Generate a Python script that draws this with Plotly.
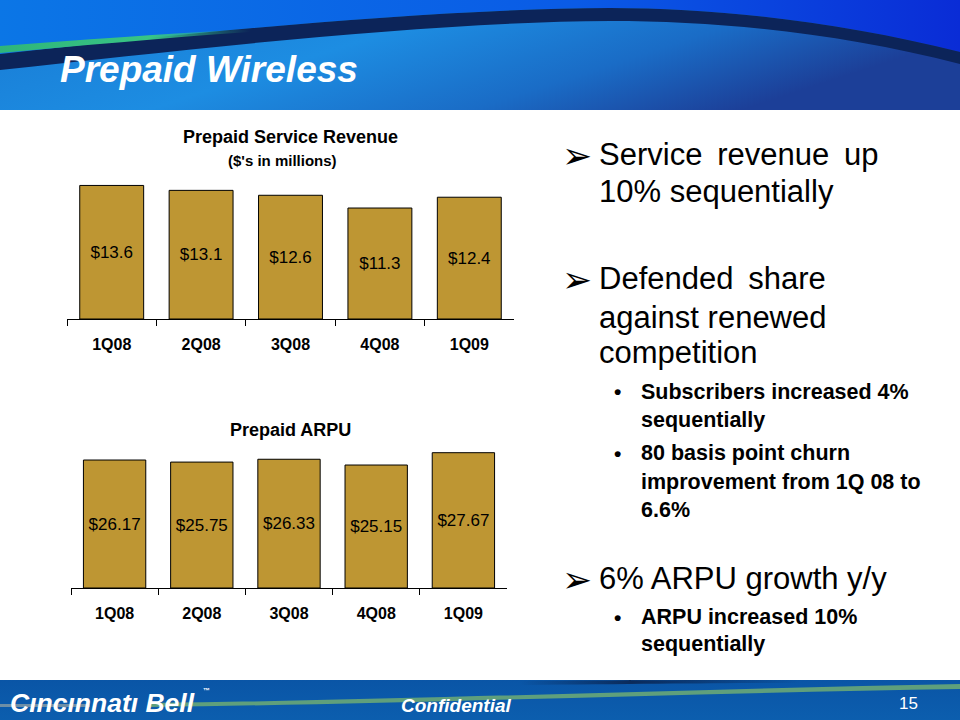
import base64
import plotly.graph_objects as go

# ---------------- data ----------------
quarters = ["1Q08", "2Q08", "3Q08", "4Q08", "1Q09"]
service_revenue = [13.6, 13.1, 12.6, 11.3, 12.4]      # $ millions
prepaid_arpu = [26.17, 25.75, 26.33, 25.15, 27.67]     # $

revenue_labels = [f"${v:.1f}" for v in service_revenue]
arpu_labels = [f"${v:.2f}" for v in prepaid_arpu]

W, H = 960, 720
GOLD = "#BE9633"
FONT = "Arial, 'Liberation Sans', sans-serif"


def px(x):
    return x / W


def py(y):
    return 1 - y / H


fig = go.Figure()

fig.add_trace(go.Bar(
    x=quarters, y=service_revenue, text=revenue_labels,
    textposition="inside", insidetextanchor="middle", textangle=0,
    constraintext="none",
    textfont=dict(size=17, color="black", family=FONT),
    marker=dict(color=GOLD, line=dict(color="black", width=1)),
    xaxis="x", yaxis="y", hoverinfo="skip", showlegend=False,
))
fig.add_trace(go.Bar(
    x=quarters, y=prepaid_arpu, text=arpu_labels,
    textposition="inside", insidetextanchor="middle", textangle=0,
    constraintext="none",
    textfont=dict(size=17, color="black", family=FONT),
    marker=dict(color=GOLD, line=dict(color="black", width=1)),
    xaxis="x2", yaxis="y2", hoverinfo="skip", showlegend=False,
))

xaxis_common = dict(
    type="category", range=[-0.5, 4.5], showline=True, linecolor="black",
    linewidth=1, ticks="outside", tickson="boundaries", ticklen=6,
    tickcolor="black", tickwidth=1, showgrid=False, zeroline=False,
    tickfont=dict(size=16, family=FONT, color="black", weight="bold"),
    ticklabelstandoff=11, fixedrange=True,
)

# ---------------- decorative header / footer ----------------
header_svg = """<svg xmlns="http://www.w3.org/2000/svg" width="960" height="110" viewBox="0 0 960 110" preserveAspectRatio="none">
<defs>
<linearGradient id="lo" x1="0" y1="0" x2="1" y2="0.35">
<stop offset="0" stop-color="#1879d3"/>
<stop offset="0.45" stop-color="#1d8de2"/>
<stop offset="0.75" stop-color="#1a6cc6"/>
<stop offset="1" stop-color="#1c3f98"/>
</linearGradient>
<linearGradient id="up" x1="0" y1="0" x2="1" y2="0">
<stop offset="0" stop-color="#0b76e6"/>
<stop offset="0.6" stop-color="#0a5be6"/>
<stop offset="1" stop-color="#0a2cd6"/>
</linearGradient>
<linearGradient id="gr" x1="0" y1="0" x2="1" y2="0">
<stop offset="0" stop-color="#2fb57a"/>
<stop offset="0.6" stop-color="#38c585"/>
<stop offset="1" stop-color="#38c585" stop-opacity="0"/>
</linearGradient>
</defs>
<rect x="0" y="0" width="960" height="110" fill="url(#lo)"/>
<path d="M0,0 H960 V52 C 840,22 720,8 610,8 C 420,9 180,34 0,54 Z" fill="url(#up)"/>
<path d="M0,54 C 180,34 420,9 610,8 C 720,8 840,22 960,52 L960,64 C 840,33 720,21 610,21 C 430,22 200,48 0,70 Z" fill="#0c2459"/>
<path d="M0,46 C 80,40 160,34 250,29 L 250,32 C 160,38 80,46 0,53 Z" fill="url(#gr)"/>
</svg>"""

footer_svg = """<svg xmlns="http://www.w3.org/2000/svg" width="960" height="40" viewBox="0 0 960 40" preserveAspectRatio="none">
<defs>
<linearGradient id="fb" x1="0" y1="0" x2="0" y2="1">
<stop offset="0" stop-color="#0a55a6"/>
<stop offset="1" stop-color="#0c5eae"/>
</linearGradient>
<linearGradient id="dl" x1="0" y1="0" x2="1" y2="0">
<stop offset="0" stop-color="#0b2a5a" stop-opacity="0"/>
<stop offset="0.4" stop-color="#0b2a5a"/>
<stop offset="1" stop-color="#0b2a5a" stop-opacity="0"/>
</linearGradient>
</defs>
<rect x="0" y="0" width="960" height="40" fill="url(#fb)"/>
<path d="M520,1 C 650,0 720,0 800,0 L800,3 C 720,3 650,4 520,5 Z" fill="url(#dl)"/>
<path d="M150,23 C 400,20 700,9 960,4 L960,9 C 700,13 400,24 150,27 Z" fill="#5f9f7c"/>
<path d="M0,24 C 30,24 60,24 90,24 L90,27 C 60,27 30,27 0,27 Z" fill="#6e8fa6"/>
</svg>"""


def svg_uri(s):
    return "data:image/svg+xml;base64," + base64.b64encode(s.encode()).decode()


images = [
    dict(source=svg_uri(header_svg), xref="paper", yref="paper", x=0, y=1,
         sizex=1, sizey=110 / H, sizing="stretch", xanchor="left",
         yanchor="top", layer="below"),
    dict(source=svg_uri(footer_svg), xref="paper", yref="paper", x=0,
         y=40 / H, sizex=1, sizey=40 / H, sizing="stretch", xanchor="left",
         yanchor="top", layer="below"),
]

# ---------------- text ----------------
annotations = []


def txt(text, x, y, size, color="black", bold=False, italic=False,
        xanchor="left", family=FONT):
    annotations.append(dict(
        text=text, x=px(x), y=py(y), xref="paper", yref="paper",
        xanchor=xanchor, yanchor="middle", showarrow=False,
        font=dict(size=size, color=color, family=family,
                  weight="bold" if bold else "normal",
                  style="italic" if italic else "normal"),
    ))


# slide title
txt("Prepaid Wireless", 58, 70, 37, color="white", bold=True, italic=True)

# chart titles
txt("Prepaid Service Revenue", 290, 137, 18, bold=True, xanchor="center")
txt("($'s in millions)", 282, 160, 15, bold=True, xanchor="center")
txt("Prepaid ARPU", 290, 430, 18, bold=True, xanchor="center")

# right-hand bullets
ARROW = "\u27A2"
for yy in (155, 280, 579):
    txt(ARROW, 560, yy, 36, bold=True, family="'DejaVu Sans', sans-serif")
main_lines = [
    ("Service\u2009 revenue\u2009 up", 154),
    ("10% sequentially", 192),
    ("Defended\u2009 share", 279),
    ("against renewed", 317),
    ("competition", 352),
    ("6% ARPU growth y/y", 578),
]
for t, yy in main_lines:
    txt(t, 597, yy, 31)

for yy in (392, 453, 617):
    txt("\u2022", 612, yy, 21, bold=True)
sub_lines = [
    ("Subscribers increased 4%", 392),
    ("sequentially", 420),
    ("80 basis point churn", 453),
    ("improvement from 1Q 08 to", 482),
    ("6.6%", 510),
    ("ARPU increased 10%", 617),
    ("sequentially", 644),
]
for t, yy in sub_lines:
    txt(t, 639, yy, 21.5, bold=True)

# footer
txt("C\u0131nc\u0131nnat\u0131 Bell", 8, 703, 26.5, color="white", bold=True,
    italic=True)
txt("\u2122", 201, 690, 7, color="white", bold=True)
txt("Confidential", 456, 705, 19, color="white", bold=True, italic=True,
    xanchor="center")
txt("15", 908, 703, 17, color="white", xanchor="center")

fig.update_layout(
    width=W, height=H, margin=dict(l=0, r=0, t=0, b=0),
    paper_bgcolor="white", plot_bgcolor="rgba(0,0,0,0)",
    bargap=0.285, showlegend=False,
    xaxis=dict(domain=[px(67), px(514)], anchor="y", **xaxis_common),
    yaxis=dict(domain=[py(319), py(178)], range=[0, 141 / 9.82],
               visible=False, fixedrange=True),
    xaxis2=dict(domain=[px(71), px(507)], anchor="y2", **xaxis_common),
    yaxis2=dict(domain=[py(588), py(448)], range=[0, 140 / 4.89],
                visible=False, fixedrange=True),
    images=images,
    annotations=annotations,
)

fig.write_html(
    "out.html",
    config={"displayModeBar": False},
    post_script="document.body.style.margin='0';"
                "document.body.style.overflow='hidden';",
)
